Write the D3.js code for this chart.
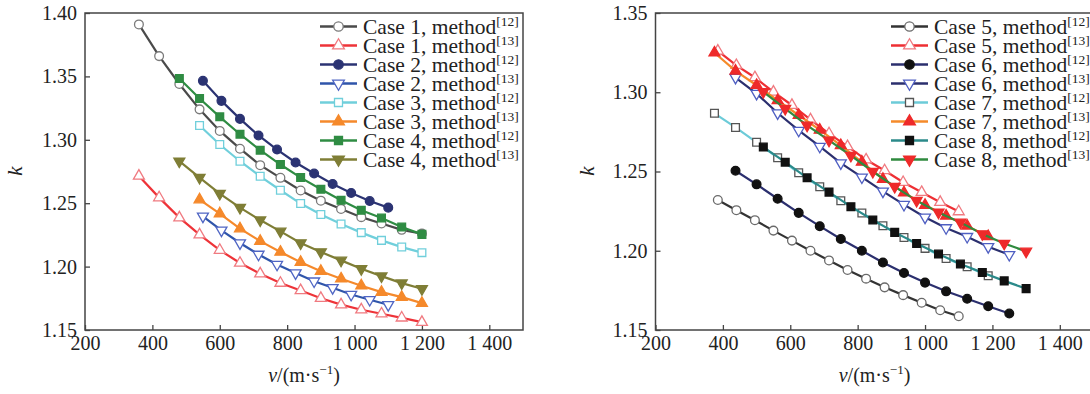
<!DOCTYPE html>
<html>
<head>
<meta charset="utf-8">
<script src="https://cdn.jsdelivr.net/npm/d3@7"></script>
<style>
  body { margin: 0; background: #fff; }
  svg { display: block; font-family: "Liberation Serif", "Times New Roman", serif; }
</style>
</head>
<body>
<svg id="chart" width="1090" height="394"></svg>
<script>
// ---- data (v in m/s, k dimensionless) ----
const vCase1 = [360, 420, 480, 540, 600, 660, 720, 780, 840, 900, 960, 1020, 1080, 1140, 1200];
const kCase1M12 = [1.391, 1.366, 1.344, 1.324, 1.307, 1.293, 1.280, 1.270, 1.260, 1.252, 1.2455, 1.239, 1.234, 1.229, 1.226];
const kCase1M13 = [1.2715, 1.2544, 1.2386, 1.2252, 1.2130, 1.2028, 1.1944, 1.1870, 1.1812, 1.1751, 1.1700, 1.1660, 1.1628, 1.1596, 1.1562];

const vCase2 = [550, 605, 660, 715, 770, 825, 880, 935, 990, 1045, 1100];
const kCase2M12 = [1.3465, 1.3307, 1.3165, 1.3034, 1.2923, 1.2821, 1.2734, 1.2652, 1.2581, 1.2517, 1.2465];
const kCase2M13 = [1.2397, 1.2286, 1.2186, 1.2096, 1.2017, 1.1949, 1.1885, 1.1833, 1.1780, 1.1739, 1.1699];

const vCase3 = [540, 600, 660, 720, 780, 840, 900, 960, 1020, 1080, 1140, 1200];
const kCase3M12 = [1.3113, 1.2963, 1.2831, 1.2712, 1.2602, 1.2497, 1.2411, 1.2336, 1.2268, 1.2207, 1.2154, 1.2110];
const kCase3M13 = [1.2528, 1.2418, 1.2299, 1.2201, 1.2115, 1.2035, 1.1964, 1.1904, 1.1849, 1.1799, 1.1759, 1.1712];

const vCase4 = [480, 540, 600, 660, 720, 780, 840, 900, 960, 1020, 1080, 1140, 1200];
const kCase4M12 = [1.3484, 1.3326, 1.3181, 1.3044, 1.2918, 1.2805, 1.2702, 1.2610, 1.2523, 1.2444, 1.2383, 1.2312, 1.2254];
const kCase4M13 = [1.2831, 1.2702, 1.2576, 1.2465, 1.2367, 1.2278, 1.2186, 1.2115, 1.2049, 1.1983, 1.1925, 1.1870, 1.1825];

const vCase5 = [385, 440, 495, 550, 605, 660, 715, 770, 825, 880, 935, 990, 1045, 1100];
const kCase5M12 = [1.2320, 1.2256, 1.2193, 1.2127, 1.2064, 1.2000, 1.1939, 1.1879, 1.1824, 1.1769, 1.1720, 1.1672, 1.1625, 1.1587];
const kCase5M13 = [1.3261, 1.3170, 1.3093, 1.3002, 1.2918, 1.2827, 1.2739, 1.2658, 1.2574, 1.2506, 1.2432, 1.2369, 1.2306, 1.2247];

const vCase6 = [437.5, 500, 562.5, 625, 687.5, 750, 812.5, 875, 937.5, 1000, 1062.5, 1125, 1187.5, 1250];
const kCase6M12 = [1.2505, 1.2419, 1.2328, 1.2239, 1.2155, 1.2074, 1.2000, 1.1926, 1.1860, 1.1799, 1.1744, 1.1697, 1.1650, 1.1604];
const kCase6M13 = [1.3093, 1.2992, 1.2869, 1.2759, 1.2658, 1.2553, 1.2464, 1.2375, 1.2291, 1.2211, 1.2144, 1.2089, 1.2025, 1.1975];

const vCase7 = [375, 437.5, 500, 562.5, 625, 687.5, 750, 812.5, 875, 937.5, 1000, 1062.5, 1125, 1187.5];
const kCase7M12 = [1.2867, 1.2778, 1.2684, 1.2587, 1.2492, 1.2404, 1.2316, 1.2238, 1.2158, 1.2084, 1.2015, 1.1951, 1.1899, 1.1842];
const kCase7M13 = [1.3249, 1.3135, 1.3044, 1.2949, 1.2855, 1.2762, 1.2665, 1.2560, 1.2452, 1.2367, 1.2288, 1.2220, 1.2157, 1.2090];

const vCase8 = [520, 585, 650, 715, 780, 845, 910, 975, 1040, 1105, 1170, 1235, 1300];
const kCase8M12 = [1.2654, 1.2559, 1.2460, 1.2370, 1.2278, 1.2194, 1.2116, 1.2046, 1.1979, 1.1916, 1.1863, 1.1810, 1.1761];
const kCase8M13 = [1.3002, 1.2897, 1.2791, 1.2696, 1.2601, 1.2500, 1.2405, 1.2316, 1.2242, 1.2179, 1.2106, 1.2046, 1.1996];

const xTicks = [200, 400, 600, 800, 1000, 1200, 1400];
const xTickLabels = ["200", "400", "600", "800", "1 000", "1 200", "1 400"];
const yTicksLeft = [1.15, 1.20, 1.25, 1.30, 1.35, 1.40];
const yTicksRight = [1.15, 1.20, 1.25, 1.30, 1.35];

// ---- layout ----
const plotTop = 13, plotBottom = 330, plotW = 438;
const svg = d3.select('#chart');

const symbols = {
  circle: d3.symbolCircle, square: d3.symbolSquare,
  up: d3.symbolTriangle, down: d3.symbolTriangle
};

function series(name, ref, v, k, line, shape, fill, stroke) {
  return { name, ref, pts: v.map((d, i) => ({ v: d, k: k[i] })), line, shape, fill, stroke };
}

const panels = [
  {
    x0: 85, yDomain: [1.15, 1.40], yTicks: yTicksLeft, kX: 22, legendX: 320,
    list: [
      series("Case 1", "12", vCase1, kCase1M12, "#4a4a4a", "circle", "#fff", "#7a7a7a"),
      series("Case 1", "13", vCase1, kCase1M13, "#ee3338", "up", "#fff", "#f07a80"),
      series("Case 2", "12", vCase2, kCase2M12, "#2b3373", "circle", "#2b3373", "#2b3373"),
      series("Case 2", "13", vCase2, kCase2M13, "#2f55aa", "down", "#fff", "#5066c4"),
      series("Case 3", "12", vCase3, kCase3M12, "#70cfdb", "square", "#fff", "#70cfdb"),
      series("Case 3", "13", vCase3, kCase3M13, "#f5892b", "up", "#f5892b", "#f5892b"),
      series("Case 4", "12", vCase4, kCase4M12, "#2f8c43", "square", "#2f8c43", "#2f8c43"),
      series("Case 4", "13", vCase4, kCase4M13, "#7f7e36", "down", "#7f7e36", "#7f7e36")
    ]
  },
  {
    x0: 655.5, yDomain: [1.15, 1.35], yTicks: yTicksRight, kX: 594, legendX: 891,
    list: [
      series("Case 5", "12", vCase5, kCase5M12, "#333333", "circle", "#fff", "#6a6a6a"),
      series("Case 5", "13", vCase5, kCase5M13, "#ee2f33", "up", "#fff", "#f07a80"),
      series("Case 6", "12", vCase6, kCase6M12, "#2b2f6e", "circle", "#111", "#111"),
      series("Case 6", "13", vCase6, kCase6M13, "#2b2f6e", "down", "#fff", "#4f5fc2"),
      series("Case 7", "12", vCase7, kCase7M12, "#6ccbd8", "square", "#fff", "#555"),
      series("Case 7", "13", vCase7, kCase7M13, "#f58a2a", "up", "#ee2a2a", "#ee2a2a"),
      series("Case 8", "12", vCase8, kCase8M12, "#2b8a8a", "square", "#111", "#111"),
      series("Case 8", "13", vCase8, kCase8M13, "#2f8a3e", "down", "#ee2a2a", "#ee2a2a")
    ]
  }
];

function drawMarkers(sel, s, size) {
  const sym = d3.symbol().type(symbols[s.shape]).size(size);
  sel.attr('d', sym)
    .attr('fill', s.fill)
    .attr('stroke', s.stroke)
    .attr('stroke-width', 1.3);
}

panels.forEach(p => {
  const x = d3.scaleLinear().domain([200, 1500]).range([p.x0, p.x0 + plotW]);
  const y = d3.scaleLinear().domain(p.yDomain).range([plotBottom, plotTop]);

  // axes with inward ticks
  const xAxis = svg.append('g')
    .attr('transform', `translate(0,${plotBottom})`)
    .call(d3.axisBottom(x).tickValues(xTicks).tickFormat((d, i) => xTickLabels[i])
      .tickSize(-5).tickPadding(6));
  const yAxis = svg.append('g')
    .attr('transform', `translate(${p.x0},0)`)
    .call(d3.axisLeft(y).tickValues(p.yTicks).tickFormat(d3.format('.2f'))
      .tickSize(-5).tickPadding(8));
  [xAxis, yAxis].forEach(a => {
    a.select('.domain').remove();
    a.selectAll('line').attr('stroke', '#444').attr('stroke-width', 1.3);
    a.selectAll('text').attr('font-size', 20).attr('fill', '#222')
      .style('font-family', '"Liberation Serif", "Times New Roman", serif');
  });

  // frame
  svg.append('rect')
    .attr('x', p.x0).attr('y', plotTop)
    .attr('width', plotW).attr('height', plotBottom - plotTop)
    .attr('fill', 'none').attr('stroke', '#444').attr('stroke-width', 1.5);

  // axis titles
  svg.append('text')
    .attr('transform', `translate(${p.kX},171) rotate(-90)`)
    .attr('text-anchor', 'middle')
    .attr('font-size', 21).attr('font-style', 'italic').attr('fill', '#222')
    .text('k');

  const xt = svg.append('text')
    .attr('x', p.x0 + plotW / 2).attr('y', 382)
    .attr('text-anchor', 'middle').attr('font-size', 20).attr('fill', '#222');
  xt.append('tspan').attr('font-style', 'italic').text('v');
  xt.append('tspan').text('/(m·s');
  xt.append('tspan').attr('font-size', 13).attr('dy', -8).text('−1');
  xt.append('tspan').attr('dy', 8).text(')');

  // series
  const line = d3.line().x(d => x(d.v)).y(d => y(d.k));
  p.list.forEach(s => {
    svg.append('path')
      .datum(s.pts)
      .attr('d', line)
      .attr('fill', 'none')
      .attr('stroke', s.line)
      .attr('stroke-width', 2.2);
    svg.append('g').selectAll('path')
      .data(s.pts)
      .join('path')
      .attr('transform', d => `translate(${x(d.v)},${y(d.k)})` + (s.shape === 'down' ? ' rotate(180)' : ''))
      .call(drawMarkers, s, s.shape === 'circle' ? 60 : (s.shape === 'square' ? 60 : 52));
  });

  // legend
  const lg = svg.append('g');
  p.list.forEach((s, i) => {
    const ly = 26.5 + i * 19;
    lg.append('line')
      .attr('x1', p.legendX).attr('x2', p.legendX + 37)
      .attr('y1', ly).attr('y2', ly)
      .attr('stroke', s.line).attr('stroke-width', 2.5);
    lg.append('path')
      .attr('transform', `translate(${p.legendX + 18.5},${ly})` + (s.shape === 'down' ? ' rotate(180)' : ''))
      .call(drawMarkers, s, s.shape === 'circle' ? 70 : (s.shape === 'square' ? 64 : 60));
    const t = lg.append('text')
      .attr('x', p.legendX + 43).attr('y', ly + 7)
      .attr('font-size', 21.5).attr('fill', '#222');
    t.append('tspan').text(`${s.name}, method`);
    t.append('tspan').attr('font-size', 13.5).attr('dy', -8).text(`[${s.ref}]`);
  });
});
</script>
</body>
</html>
